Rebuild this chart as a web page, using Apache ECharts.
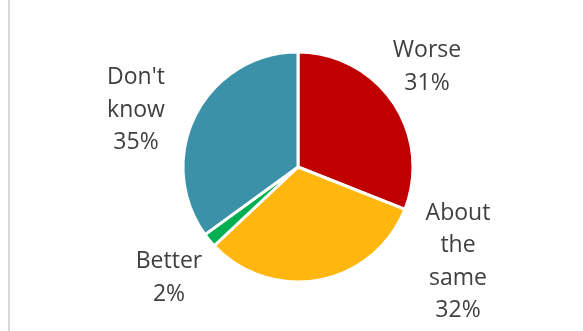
<!DOCTYPE html>
<html>
<head>
<meta charset="utf-8">
<script src="https://cdn.jsdelivr.net/npm/echarts@6/dist/echarts.min.js"></script>
<style>html,body{margin:0;padding:0;background:#fff;}#c{width:583px;height:331px;}</style>
</head>
<body>
<div id="c"></div>
<script>
const categories = ["Worse", "About the same", "Better", "Don't know"];
const labelNames = ["Worse", "About\nthe\nsame", "Better", "Don't\nknow"];
const values = [31, 32, 2, 35];
const colors = ["#C00000", "#FFB60E", "#00B050", "#3A91A8"];
const labelPos = [[427, 67], [458, 262], [169, 278], [136, 110]];

const chart = echarts.init(document.getElementById('c'), null, {renderer: 'canvas'});
chart.setOption({
  backgroundColor: '#ffffff',
  animation: false,
  graphic: [{type: 'rect', shape: {x: 8, y: 0, width: 2, height: 331}, style: {fill: '#d9d9d9'}}],
  series: [{
    type: 'pie',
    center: [298, 167],
    radius: 115,
    startAngle: 90,
    clockwise: true,
    data: categories.map((c, i) => ({name: c, value: values[i], itemStyle: {color: colors[i]}})),
    itemStyle: {borderColor: '#ffffff', borderWidth: 3},
    label: {
      show: true,
      position: 'outside',
      formatter: p => labelNames[p.dataIndex] + '\n' + values[p.dataIndex] + '%',
      fontFamily: 'Open Sans',
      fontSize: 23,
      lineHeight: 32.5,
      color: '#3f3f3f',
      align: 'center'
    },
    labelLine: {show: false},
    labelLayout: p => ({x: labelPos[p.dataIndex][0], y: labelPos[p.dataIndex][1], align: 'center', verticalAlign: 'middle'})
  }]
});
</script>
</body>
</html>
